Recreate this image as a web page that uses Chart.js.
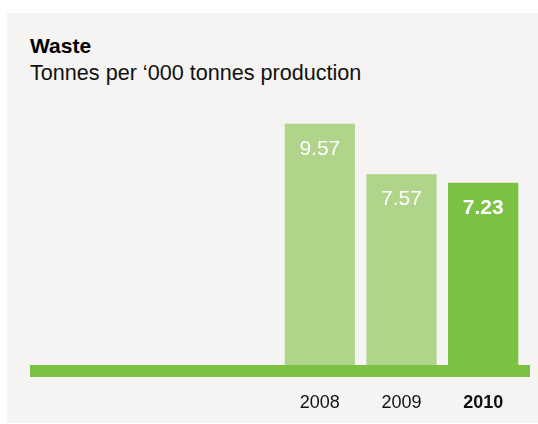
<!DOCTYPE html>
<html>
<head>
<meta charset="utf-8">
<script src="https://cdn.jsdelivr.net/npm/chart.js@4.4.1/dist/chart.umd.min.js"></script>
<style>
  html, body { margin: 0; padding: 0; background: #fff; }
  body { width: 538px; height: 424px; position: relative; overflow: hidden; font-family: "Liberation Sans", Arial, sans-serif; }
  .panel { position: absolute; left: 7px; top: 13px; right: 0; bottom: 1px; background: #f5f4f2; }
  .title { position: absolute; left: 30px; top: 34px; font-size: 21px; line-height: 24px; font-weight: bold; color: #000; }
  .subtitle { position: absolute; left: 30px; top: 61px; font-size: 21.6px; line-height: 24px; color: #111; }
  #wrap { position: absolute; left: 0; top: 0; width: 538px; height: 424px; }
</style>
</head>
<body>
<div class="panel"></div>
<div class="title">Waste</div>
<div class="subtitle">Tonnes per ‘000 tonnes production</div>
<div id="wrap"><canvas id="wasteChart"></canvas></div>
<script>
(function () {
'use strict';

const years = ['2008', '2009', '2010'];
const waste = [9.57, 7.57, 7.23];
const highlight = [false, false, true];

const LIGHT = '#afd48a';
const DARK = '#7bc142';

// green base band under the bars, running the width of the panel
const baseBand = {
  id: 'baseBand',
  afterDatasetsDraw(chart) {
    const { ctx, chartArea } = chart;
    ctx.save();
    ctx.fillStyle = DARK;
    ctx.fillRect(30, chartArea.bottom, 500, 12);
    ctx.restore();
  },
};

// value printed inside the top of each bar
const valueLabels = {
  id: 'valueLabels',
  afterDatasetsDraw(chart) {
    const { ctx } = chart;
    const meta = chart.getDatasetMeta(0);
    ctx.save();
    ctx.fillStyle = '#fff';
    ctx.textAlign = 'center';
    ctx.textBaseline = 'alphabetic';
    meta.data.forEach((bar, i) => {
      ctx.font = (highlight[i] ? 'bold ' : '') + '21px "Liberation Sans", Arial, sans-serif';
      ctx.fillText(waste[i].toFixed(2), bar.x, bar.y + 31);
    });
    ctx.restore();
  },
};

Chart.defaults.font.family = '"Liberation Sans", Arial, sans-serif';

new Chart(document.getElementById('wasteChart'), {
  type: 'bar',
  data: {
    labels: years,
    datasets: [{
      data: waste,
      backgroundColor: highlight.map(h => h ? DARK : LIGHT),
      borderWidth: 0,
      categoryPercentage: 1,
      barPercentage: 0.86,
    }],
  },
  options: {
    responsive: true,
    maintainAspectRatio: false,
    animation: false,
    layout: { padding: { left: 279, right: 14, top: 113, bottom: 0 } },
    plugins: { legend: { display: false }, tooltip: { enabled: false } },
    scales: {
      y: { display: false, min: 0, max: 10 },
      x: {
        grid: { display: false },
        border: { display: false },
        afterFit: (scale) => { scale.height = 59; },
        ticks: {
          color: '#111',
          padding: 19,
          font: (ctx) => ({ size: 18, weight: highlight[ctx.index] ? 'bold' : 'normal' }),
        },
      },
    },
  },
  plugins: [baseBand, valueLabels],
});
})();
</script>
</body>
</html>
